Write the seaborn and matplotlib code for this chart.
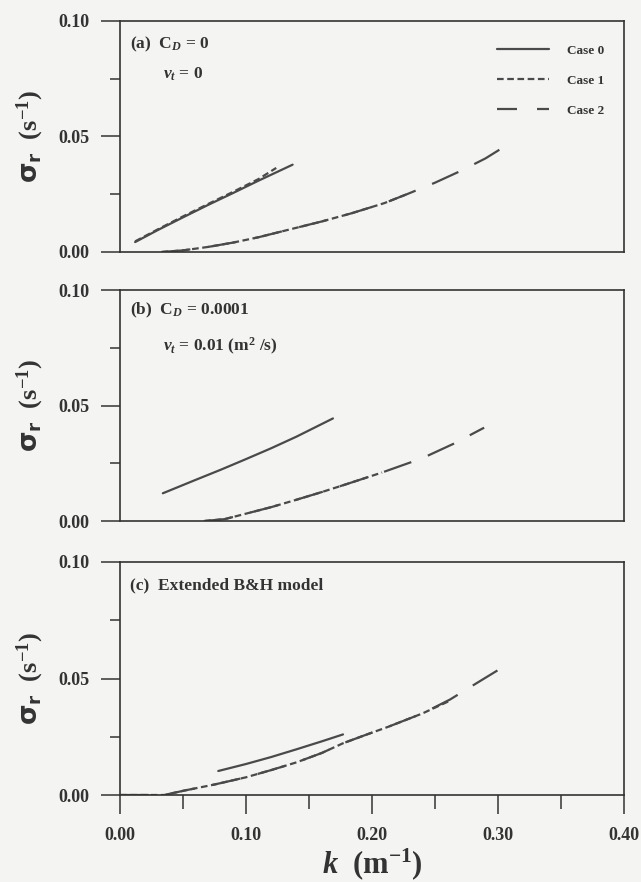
import numpy as np
import pandas as pd
import matplotlib
matplotlib.use("Agg")
import matplotlib.pyplot as plt
import seaborn as sns
from matplotlib.lines import Line2D

# ---------------- data ----------------
# Panel (a)  C_D = 0, nu_t = 0
a_case0_k = [0.012, 0.03, 0.05, 0.07, 0.09, 0.11, 0.137]
a_case0_s = [0.0043, 0.0095, 0.0150, 0.0204, 0.0256, 0.0309, 0.0378]
a_case1_up_k = [0.012, 0.03, 0.05, 0.07, 0.09, 0.11, 0.124]
a_case1_up_s = [0.0046, 0.0098, 0.0154, 0.0208, 0.0261, 0.0316, 0.0364]
a_case1_lo_k = [0.033, 0.05, 0.07, 0.09, 0.11, 0.132, 0.16, 0.184, 0.21, 0.229]
a_case1_lo_s = [0.0000, 0.0007, 0.0022, 0.0041, 0.0064, 0.0094, 0.0132, 0.0168, 0.0212, 0.0253]
a_case2_k = [0.033, 0.05, 0.07, 0.09, 0.11, 0.132, 0.16, 0.184, 0.21, 0.229,
             0.25, 0.27, 0.29, 0.308]
a_case2_s = [0.0000, 0.0007, 0.0022, 0.0041, 0.0064, 0.0094, 0.0132, 0.0168, 0.0212, 0.0253,
             0.0300, 0.0350, 0.0405, 0.0466]

# Panel (b)  C_D = 0.0001, nu_t = 0.01
b_case0_k = [0.034, 0.06, 0.08, 0.10, 0.12, 0.14, 0.169]
b_case0_s = [0.0120, 0.0178, 0.0222, 0.0268, 0.0315, 0.0365, 0.0444]
b_case1_k = [0.067, 0.083, 0.098, 0.12, 0.14, 0.16, 0.18, 0.208]
b_case1_s = [0.0000, 0.0008, 0.0029, 0.0060, 0.0092, 0.0125, 0.0160, 0.0210]
b_case2_k = [0.067, 0.083, 0.098, 0.12, 0.14, 0.16, 0.18, 0.208, 0.24, 0.265, 0.289]
b_case2_s = [0.0000, 0.0008, 0.0029, 0.0060, 0.0092, 0.0125, 0.0160, 0.0210, 0.0272, 0.0335, 0.0404]

# Panel (c)  Extended B&H model
c_case0_k = [0.078, 0.10, 0.12, 0.14, 0.16, 0.177]
c_case0_s = [0.0103, 0.0133, 0.0163, 0.0196, 0.0230, 0.0260]
c_case1_k = [0.0, 0.035, 0.051, 0.075, 0.10, 0.12, 0.14, 0.16, 0.177, 0.195, 0.213, 0.24, 0.262]
c_case1_s = [0.0, 0.0, 0.0019, 0.0045, 0.0076, 0.0107, 0.0140, 0.0180, 0.0222, 0.0258, 0.0293,
             0.0350, 0.0405]
c_case2_k = [0.0, 0.035, 0.051, 0.075, 0.10, 0.12, 0.14, 0.16, 0.177, 0.195, 0.213, 0.24,
             0.262, 0.28, 0.30]
c_case2_s = [0.0, 0.0, 0.0019, 0.0045, 0.0076, 0.0107, 0.0140, 0.0180, 0.0222, 0.0258, 0.0293,
             0.0350, 0.0410, 0.0470, 0.0536]

case_labels = ["Case 0", "Case 1", "Case 2"]
x_ticks = [0.00, 0.10, 0.20, 0.30, 0.40]
y_ticks = [0.00, 0.05, 0.10]

# ---------------- styling ----------------
sns.set_theme(style="ticks")
plt.rcParams["font.family"] = ["Liberation Serif", "DejaVu Serif"]
plt.rcParams["font.weight"] = "bold"
plt.rcParams["mathtext.fontset"] = "custom"
plt.rcParams["mathtext.rm"] = "Liberation Serif:bold"
plt.rcParams["mathtext.it"] = "Liberation Serif:italic:bold"
plt.rcParams["mathtext.bf"] = "Liberation Serif:bold"
plt.rcParams["mathtext.sf"] = "DejaVu Sans"

BG = "#f4f4f2"
INK = "#333333"
LINE = "#4a4a4a"

styles = {
    "Case 0": dict(ls="-", dashes=None),
    "Case 1": dict(ls="--", dashes=(3, 1.6)),
    "Case 2": dict(ls="--", dashes=(13, 8)),
}
legend_dashes = {"Case 1": (3, 1.6), "Case 2": (9, 9)}

fig = plt.figure(figsize=(6.41, 8.82), dpi=100, facecolor=BG)
left, width = 120 / 641, 504 / 641
positions = [
    (left, 1 - 252 / 882, width, 231 / 882),
    (left, 1 - 521 / 882, width, 231 / 882),
    (left, 1 - 795 / 882, width, 233 / 882),
]
axes = [fig.add_axes(p) for p in positions]


def draw(ax, k, s, case, lw=1.6):
    df = pd.DataFrame({"k": k, "s": s})
    st = styles[case]
    sns.lineplot(data=df, x="k", y="s", ax=ax, color=LINE, lw=lw,
                 sort=False, estimator=None)
    line = ax.get_lines()[-1]
    if st["dashes"] is not None:
        line.set_dashes(st["dashes"])


panels = [
    [(a_case0_k, a_case0_s, "Case 0"), (a_case1_up_k, a_case1_up_s, "Case 1"),
     (a_case1_lo_k, a_case1_lo_s, "Case 1"), (a_case2_k, a_case2_s, "Case 2")],
    [(b_case0_k, b_case0_s, "Case 0"), (b_case1_k, b_case1_s, "Case 1"),
     (b_case2_k, b_case2_s, "Case 2")],
    [(c_case0_k, c_case0_s, "Case 0"), (c_case1_k, c_case1_s, "Case 1"),
     (c_case2_k, c_case2_s, "Case 2")],
]

for i, (ax, series) in enumerate(zip(axes, panels)):
    ax.set_facecolor(BG)
    for k, s, case in series:
        draw(ax, k, s, case)
    ax.set_xlim(0, 0.40)
    ax.set_ylim(0, 0.10)
    for sp in ax.spines.values():
        sp.set_visible(True)
        sp.set_color(INK)
        sp.set_linewidth(1.2)
    ax.set_yticks(y_ticks)
    ax.set_yticklabels([f"{v:.2f}" for v in y_ticks], fontsize=13, fontweight="bold", color=INK)
    ax.set_yticks([0.025, 0.075], minor=True)
    ax.tick_params(axis="y", which="major", direction="out", length=14, width=1.1,
                   color=INK, pad=8)
    ax.tick_params(axis="y", which="minor", direction="out", length=7, width=1.1, color=INK)
    ax.set_ylabel(r"$\mathsf{\sigma_r}$  (s$^{\mathbf{-1}}$)", fontsize=19, fontweight="bold",
                  color=INK, labelpad=9)
    if i < 2:
        ax.set_xticks([])
        ax.set_xlabel("")
    else:
        ax.set_xticks(x_ticks)
        ax.set_xticklabels([f"{v:.2f}" for v in x_ticks], fontsize=13, fontweight="bold", color=INK)
        ax.set_xticks([0.05, 0.15, 0.25, 0.35], minor=True)
        ax.tick_params(axis="x", which="major", direction="out", length=14, width=1.1,
                       color=INK, pad=9)
        ax.tick_params(axis="x", which="minor", direction="out", length=10, width=1.1, color=INK)
        ax.set_xlabel(r"$\mathit{k}$  (m$^{\mathbf{-1}}$)", fontsize=22, fontweight="bold",
                      color=INK, labelpad=2)

# annotations
axes[0].text(0.02, 0.90, r"(a)  C$_{\mathit{D}}$ = 0", transform=axes[0].transAxes,
             fontsize=12.5, fontweight="bold", color=INK, va="center")
axes[0].text(0.085, 0.77, r"$\nu_{\mathit{t}}$ = 0", transform=axes[0].transAxes,
             fontsize=12.5, fontweight="bold", color=INK, va="center")
axes[1].text(0.02, 0.91, r"(b)  C$_{\mathit{D}}$ = 0.0001", transform=axes[1].transAxes,
             fontsize=12.5, fontweight="bold", color=INK, va="center")
axes[1].text(0.085, 0.755, r"$\nu_{\mathit{t}}$ = 0.01 (m$^{2}$ /s)", transform=axes[1].transAxes,
             fontsize=12.5, fontweight="bold", color=INK, va="center")
axes[2].text(0.02, 0.90, "(c)  Extended B&H model", transform=axes[2].transAxes,
             fontsize=12.5, fontweight="bold", color=INK, va="center")

# legend in panel (a)
handles = []
for case in case_labels:
    st = styles[case]
    h = Line2D([0], [0], color=LINE, lw=1.6, ls=st["ls"])
    if case in legend_dashes:
        h.set_dashes(legend_dashes[case])
    handles.append(h)
leg = axes[0].legend(handles, case_labels, loc="upper right", bbox_to_anchor=(0.985, 0.95),
                     frameon=False, fontsize=9.5, handlelength=3.9, labelspacing=1.35,
                     handletextpad=1.4)
for t in leg.get_texts():
    t.set_fontweight("bold")
    t.set_color(INK)

fig.savefig("out.png", dpi=100, facecolor=BG)
